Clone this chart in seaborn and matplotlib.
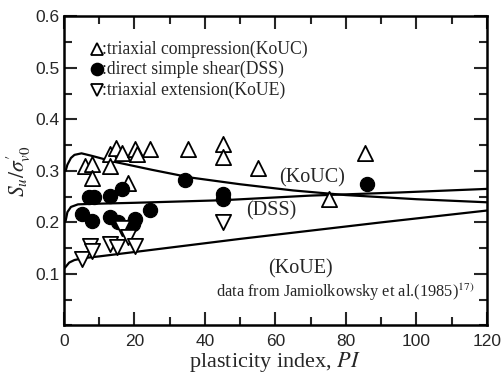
import matplotlib
matplotlib.use("Agg")
import matplotlib.pyplot as plt
import seaborn as sns
import pandas as pd
import numpy as np
from matplotlib.ticker import MultipleLocator

sns.set_theme(style="ticks")
plt.rcParams['font.family'] = ['Liberation Sans', 'DejaVu Sans']
plt.rcParams['mathtext.fontset'] = 'stix'

# triaxial compression (KoUC)
uc_pi = [6.0, 7.9, 7.9, 13.0, 13.0, 14.9, 16.4, 18.2, 20.1, 20.8, 24.4, 35.3, 45.2, 45.2, 55.1, 75.3, 85.4]
uc_su = [0.310, 0.313, 0.287, 0.332, 0.310, 0.345, 0.334, 0.277, 0.342, 0.332, 0.342, 0.342, 0.353, 0.327, 0.305, 0.245, 0.335]
# direct simple shear (DSS)
dss_pi = [5.0, 7.0, 8.5, 7.9, 13.0, 13.0, 15.4, 16.4, 20.1, 19.7, 24.4, 34.3, 45.2, 45.2, 85.9]
dss_su = [0.216, 0.250, 0.250, 0.203, 0.252, 0.210, 0.200, 0.265, 0.206, 0.197, 0.224, 0.282, 0.255, 0.245, 0.274]
# triaxial extension (KoUE)
ue_pi = [5.0, 7.4, 8.0, 13.0, 15.0, 16.4, 18.2, 20.1, 45.2]
ue_su = [0.129, 0.155, 0.145, 0.158, 0.152, 0.190, 0.171, 0.155, 0.200]

# trend curves
kouc_x = [0.5, 1.0, 2.0, 3.0, 5.0, 8.0, 14.0, 25.0, 36.0, 50.0, 65.0, 80.0, 100.0, 120.0]
kouc_y = [0.300, 0.312, 0.325, 0.331, 0.334, 0.329, 0.318, 0.302, 0.287, 0.274, 0.262, 0.253, 0.245, 0.239]
dss_x = [0.5, 1.0, 2.0, 4.0, 8.0, 20.0, 45.0, 70.0, 95.0, 120.0]
dss_y = [0.203, 0.220, 0.230, 0.235, 0.236, 0.238, 0.243, 0.252, 0.258, 0.265]
koue_x = [0.3, 1.5, 3.0, 6.0, 10.0, 30.0, 50.0, 70.0, 90.0, 120.0]
koue_y = [0.112, 0.122, 0.127, 0.131, 0.134, 0.151, 0.168, 0.184, 0.200, 0.223]

legend_labels = [":triaxial compression(KoUC)", ":direct simple shear(DSS)", ":triaxial extension(KoUE)"]

fig = plt.figure(figsize=(5.03, 3.78), dpi=100)
ax = fig.add_axes([0.127, 0.139, 0.841, 0.818])

for cx, cy in [(kouc_x, kouc_y), (dss_x, dss_y), (koue_x, koue_y)]:
    sns.lineplot(x=cx, y=cy, ax=ax, color='black', lw=1.6, sort=False, estimator=None)

sns.scatterplot(x=uc_pi, y=uc_su, ax=ax, marker='^', s=120, facecolor='white',
                edgecolor='black', linewidth=1.3, zorder=3)
sns.scatterplot(x=dss_pi, y=dss_su, ax=ax, marker='o', s=105, color='black',
                edgecolor='black', zorder=3)
sns.scatterplot(x=ue_pi, y=ue_su, ax=ax, marker='v', s=120, facecolor='white',
                edgecolor='black', linewidth=1.3, zorder=3)

# legend-like annotations
leg_y = [0.536, 0.497, 0.457]
mk = [dict(marker='^', mfc='white', ms=8.5), dict(marker='o', mfc='black', ms=8.5),
      dict(marker='v', mfc='white', ms=8.5)]
for yy, m, lab in zip(leg_y, mk, legend_labels):
    ax.plot([9.4], [yy], ls='none', mec='black', mew=1.3, **m)
    ax.text(10.9, yy, lab, family='Liberation Serif', fontsize=12.7, va='center', ha='left')

ax.text(70.4, 0.286, "(KoUC)", family='Liberation Serif', fontsize=14.5, ha='center', va='center')
ax.text(58.9, 0.222, "(DSS)", family='Liberation Serif', fontsize=14.5, ha='center', va='center')
ax.text(67.0, 0.110, "(KoUE)", family='Liberation Serif', fontsize=14.5, ha='center', va='center')
ax.text(116.5, 0.055, "data from Jamiolkowsky et al.(1985)$^{17)}$", family='Liberation Serif',
        fontsize=11.8, ha='right', va='baseline')

ax.set_xlim(0, 120)
ax.set_ylim(0, 0.6)
ax.xaxis.set_major_locator(MultipleLocator(20))
ax.xaxis.set_minor_locator(MultipleLocator(10))
ax.yaxis.set_major_locator(MultipleLocator(0.1))
ax.yaxis.set_minor_locator(MultipleLocator(0.05))
ax.set_yticks([0.1, 0.2, 0.3, 0.4, 0.5, 0.6])
ax.set_yticklabels(['0.1', '0.2', '0.3', '0.4', '0.5', '0.6'])
ax.set_xticks([0, 20, 40, 60, 80, 100, 120])
ax.tick_params(which='both', direction='in', top=True, right=True, width=1.5, labelsize=12.5)
ax.tick_params(axis='x', which='both', pad=6)
ax.tick_params(axis='y', which='both', pad=3)
ax.tick_params(which='major', length=9.5)
ax.tick_params(which='minor', length=5.5)
for sp in ax.spines.values():
    sp.set_linewidth(1.8)
    sp.set_color('black')

ax.set_xlabel("plasticity index, $\\it{PI}$", family='Liberation Serif', fontsize=16, labelpad=1)
ax.set_ylabel("$S_u/\\sigma^{\\prime}_{v0}$", fontsize=15.5, labelpad=2)

fig.savefig("out.png", dpi=100)
